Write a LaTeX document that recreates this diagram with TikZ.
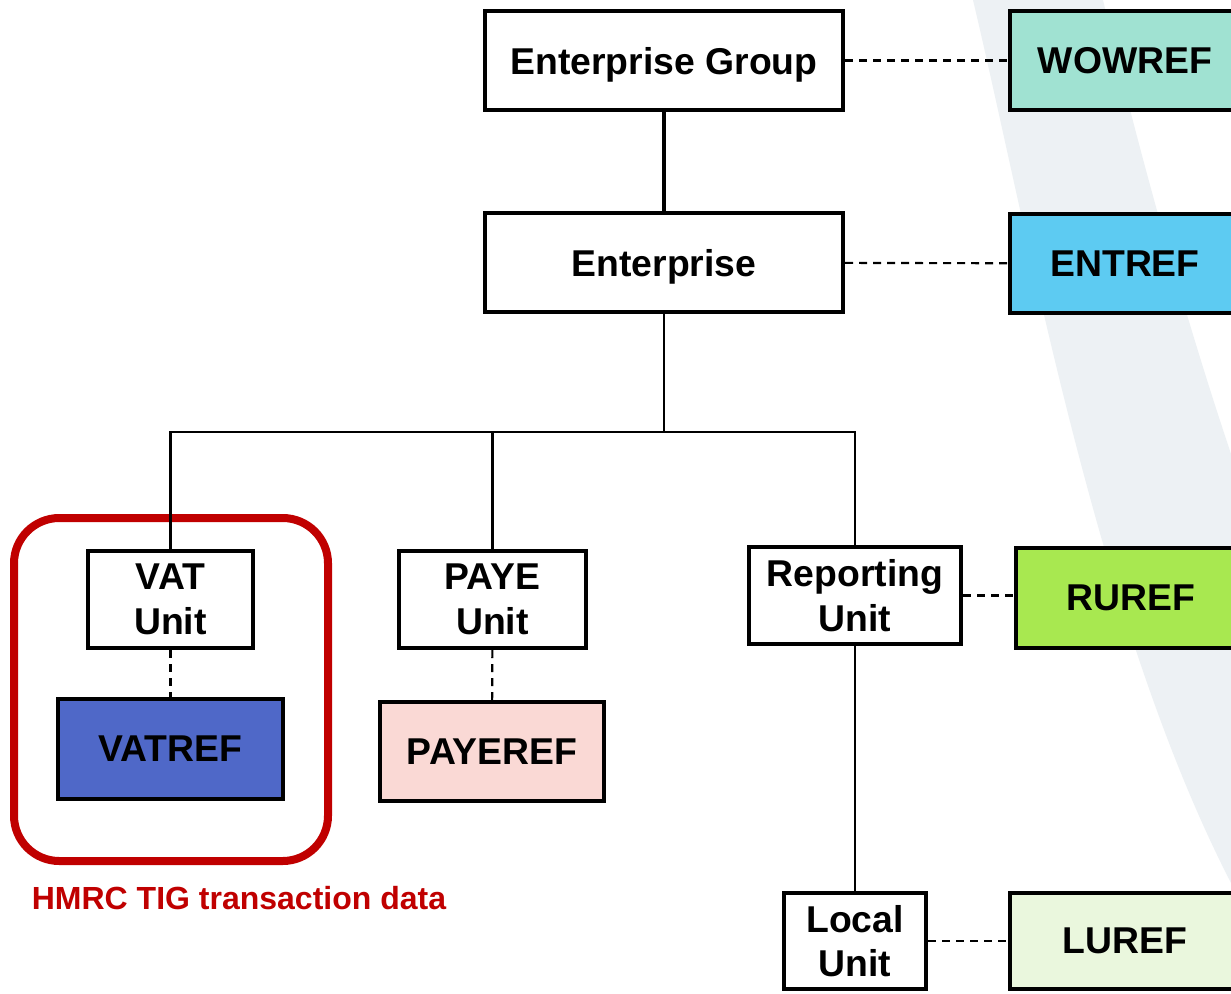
\documentclass[tikz,border=0pt]{standalone}
\usepackage{fontspec}
\setmainfont{Liberation Sans}
\definecolor{wowfill}{HTML}{A0E2D2}
\definecolor{entfill}{HTML}{5DCBF2}
\definecolor{rufill}{HTML}{A8E850}
\definecolor{lufill}{HTML}{EAF7DD}
\definecolor{vatfill}{HTML}{4F68C8}
\definecolor{payefill}{HTML}{FAD9D5}
\definecolor{hmrcred}{HTML}{C00000}
\definecolor{swoosh}{HTML}{EDF1F4}

\begin{document}
\begin{tikzpicture}[x=0.75pt, y=-0.75pt,
        unitnode/.style={draw=black, fill=white, line width=3.25pt, align=center, inner sep=0pt,
                font=\bfseries\fontsize{28}{33.5}\selectfont},
        refnode/.style={unitnode, minimum width=172.5pt, minimum height=74.25pt},
        dashline/.style={black, line width=1.6pt, dash pattern=on 6pt off 4.5pt},
        ]
                \useasboundingbox (0,0) rectangle (1231,993);
                \clip (0,0) rectangle (1231,993);
                \fill[white] (0,0) rectangle (1231,993);
                \fill[swoosh] (973,0) .. controls (1030,240) and (1100,640) .. (1240,900)
                        -- (1240,480) .. controls (1205,380) and (1150,200) .. (1103,0) -- cycle;

                \node[unitnode, text depth=0pt, minimum width=268.5pt, minimum height=74.25pt] at(664,60.5) (eg) {Enterprise Group};
                \node[unitnode, text depth=0pt, minimum width=268.5pt, minimum height=74.25pt] at(664,262.5) (ent) {Enterprise};
                \node[refnode, fill=wowfill]  at(1125,60.5) (wow) {WOWREF};
                \node[refnode, fill=entfill]  at(1125,263.5) (entref) {ENTREF};

                \node[unitnode, minimum width=123.75pt, minimum height=72.75pt] at(170.5,599.5) (vat) {VAT\\Unit};
                \node[unitnode, minimum width=140.25pt, minimum height=72.75pt] at(492.5,599.5) (paye) {PAYE\\Unit};
                \node[unitnode, minimum width=159pt, minimum height=72.75pt] at(855,595.5) (ru) {Reporting\\Unit};
                \node[unitnode, minimum width=106.5pt, minimum height=72pt] at(855,941) (lu) {Local\\Unit};

                \node[refnode, fill=vatfill, minimum width=168.75pt, minimum height=75pt]  at(170.5,749) (vatref) {VATREF};
                \node[refnode, fill=payefill, minimum width=168pt]  at(492,751.5) (payeref) {PAYEREF};
                \node[refnode, fill=rufill, minimum height=75pt]  at(1131,598) (ruref) {RUREF};
                \node[refnode, fill=lufill, minimum height=72pt]  at(1125,941) (luref) {LUREF};

                \node[draw=hmrcred, line width=6pt, rounded corners=34pt, minimum width=235.5pt,
                        minimum height=257.25pt] at(171,689.5) (hmrc) {};
                \node[text=hmrcred, font=\bfseries\fontsize{24}{28}\selectfont] at(239,898) (hmrclabel) {HMRC TIG transaction data};

                \coordinate (bus) at (664,432);

                \draw[-, line width=3.5pt] (eg)  --  (ent) ;
                \draw[-, line width=2.2pt] (ent)  --  (bus) ;
                \draw[-, line width=2pt] (vat)  |-  (bus) -| (ru) ;
                \draw[-, line width=2pt] (paye)  --  (paye |- bus) ;
                \draw[-, line width=2pt] (ru)  --  (lu) ;

                \draw[dashline] (eg)  --  (wow) ;
                \draw[dashline] (ent)  --  (entref) ;
                \draw[dashline] (vat)  --  (vatref) ;
                \draw[dashline] (paye)  --  (payeref) ;
                \draw[dashline] (ru.east)  --  (ru.east -| ruref.west) ;
                \draw[dashline] (lu)  --  (luref) ;

            \end{tikzpicture}
\end{document}
